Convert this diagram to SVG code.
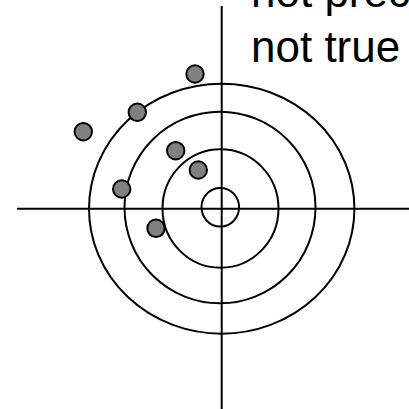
<svg xmlns="http://www.w3.org/2000/svg" width="409" height="409" viewBox="0 0 409 409">
<style>
.ring{fill:none;stroke:#000;stroke-width:2}
.axis{stroke:#000;stroke-width:2}
.dot{fill:#808080;stroke:#000;stroke-width:2}
.lbl{font-family:"Liberation Sans",Arial,sans-serif;font-size:44px;fill:#000}
</style>
<rect width="409" height="409" fill="#fff"/>
<g id="target">
<ellipse class="ring" cx="221.7" cy="208.7" rx="132.7" ry="125"/>
<ellipse class="ring" cx="220" cy="207.5" rx="95.5" ry="95.8"/>
<ellipse class="ring" cx="220.5" cy="208.5" rx="58" ry="59.2"/>
<ellipse class="ring" cx="220.3" cy="207.3" rx="18.8" ry="19.3"/>
</g>
<g id="axes">
<line class="axis" x1="17" y1="208.7" x2="409" y2="208.7"/>
<line class="axis" x1="221.7" y1="6" x2="221.7" y2="409"/>
</g>
<g id="dots">
<circle class="dot" cx="195" cy="74" r="8.7"/>
<circle class="dot" cx="137.3" cy="112.3" r="8.7"/>
<circle class="dot" cx="83.3" cy="131.7" r="8.7"/>
<circle class="dot" cx="175.7" cy="150.7" r="8.7"/>
<circle class="dot" cx="198.3" cy="170" r="8.7"/>
<circle class="dot" cx="121.7" cy="189" r="8.7"/>
<circle class="dot" cx="156" cy="228.3" r="8.7"/>
</g>
<g id="label">
<text class="lbl" x="251" y="7">not precise</text>
<text class="lbl" x="251" y="61.7">not true</text>
</g>
</svg>
